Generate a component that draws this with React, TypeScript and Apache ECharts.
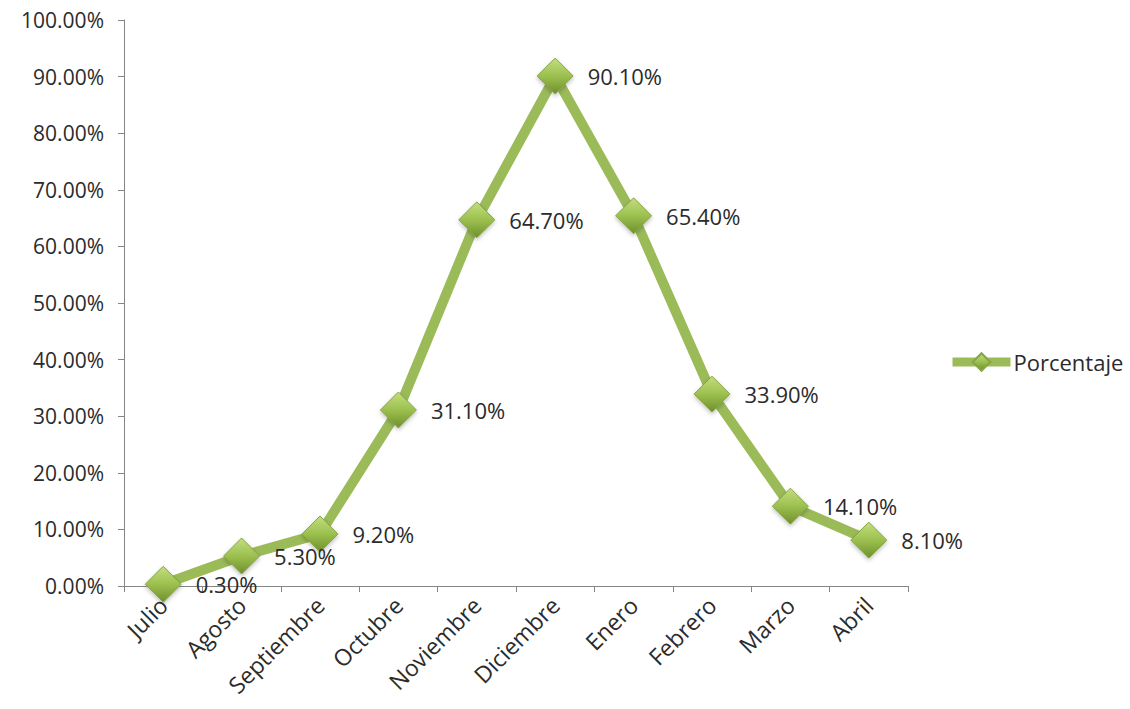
import React, { useEffect, useRef } from "react";
import * as echarts from "echarts";

const categories = ["Julio", "Agosto", "Septiembre", "Octubre", "Noviembre", "Diciembre", "Enero", "Febrero", "Marzo", "Abril"];
const values = [0.3, 5.3, 9.2, 31.1, 64.7, 90.1, 65.4, 33.9, 14.1, 8.1];
const seriesName = "Porcentaje";
const yMin = 0;
const yMax = 100;
const yStep = 10;

const FONT = "'Open Sans', 'Noto Sans', sans-serif";
const TEXT = "#2b2b2b";

export default function App() {
  const ref = useRef<HTMLDivElement>(null);
  useEffect(() => {
    document.body.style.margin = "0";
    const chart = echarts.init(ref.current!, null, { renderer: "svg" });
    const markerColor = new echarts.graphic.LinearGradient(0, 0, 0, 1, [
      { offset: 0, color: "#c3de7e" },
      { offset: 0.5, color: "#9cc04f" },
      { offset: 1, color: "#6f8f2c" },
    ]);
    chart.setOption({
      animation: false,
      backgroundColor: "#ffffff",
      textStyle: { fontFamily: FONT },
      grid: { left: 124, right: 222, top: 20, bottom: 123, containLabel: false },
      legend: {
        data: [seriesName],
        left: 943,
        top: 346,
        itemWidth: 58,
        itemHeight: 22,
        itemGap: 6,
        lineStyle: { width: 9, color: "#9bbb59" },
        textStyle: { fontFamily: FONT, fontSize: 22, color: TEXT, padding: [0, 0, 0, -2] },
      },
      xAxis: {
        type: "category",
        data: categories,
        boundaryGap: true,
        axisLine: { show: true, lineStyle: { color: "#868686", width: 1 } },
        axisTick: { show: true, length: 6, alignWithLabel: false, lineStyle: { color: "#868686" } },
        axisLabel: { rotate: 45, fontFamily: FONT, fontSize: 23, color: TEXT, margin: 15, interval: 0 },
        splitLine: { show: false },
      },
      yAxis: {
        type: "value",
        min: yMin,
        max: yMax,
        interval: yStep,
        axisLine: { show: true, lineStyle: { color: "#868686", width: 1 } },
        axisTick: { show: true, length: 6, inside: false, lineStyle: { color: "#868686" } },
        axisLabel: {
          fontFamily: FONT,
          fontSize: 21,
          color: TEXT,
          margin: 20,
          formatter: (v: number) => v.toFixed(2) + "%",
        },
        splitLine: { show: false },
      },
      series: [
        {
          name: seriesName,
          type: "line",
          data: values,
          symbol: "diamond",
          symbolSize: 36,
          lineStyle: { color: "#9bbb59", width: 10 },
          itemStyle: {
            color: markerColor,
            borderColor: "#86a544",
            borderWidth: 1,
            shadowColor: "rgba(0,0,0,0.25)",
            shadowBlur: 4,
            shadowOffsetY: 2,
          },
          label: {
            show: true,
            position: "right",
            distance: 14,
            fontFamily: FONT,
            fontSize: 22,
            color: TEXT,
            formatter: (p: any) => Number(p.value).toFixed(2) + "%",
          },
          z: 3,
        },
      ],
    });
    return () => chart.dispose();
  }, []);
  return <div ref={ref} style={{ width: 1130, height: 709, position: "absolute", left: 0, top: 0 }} />;
}
